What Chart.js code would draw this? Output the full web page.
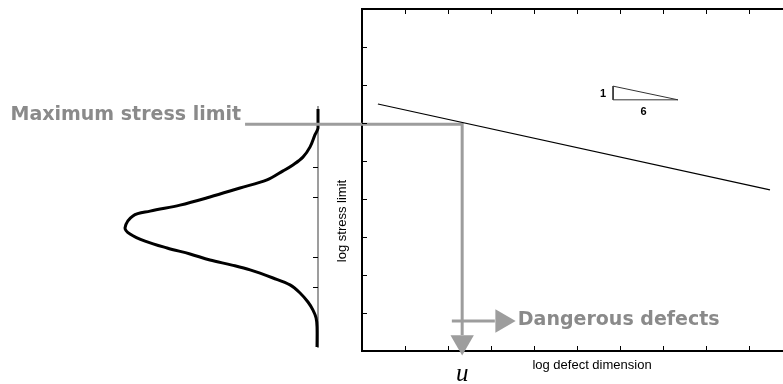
<!DOCTYPE html>
<html>
<head>
<meta charset="utf-8">
<script src="https://cdn.jsdelivr.net/npm/chart.js@4.4.1/dist/chart.umd.min.js"></script>
<style>
  body { margin: 0; overflow: hidden; background: #fff; }
  canvas { position: absolute; left: 0; top: 0; }
</style>
</head>
<body>
<canvas id="gauss" width="783" height="384"></canvas>
<canvas id="main" width="830" height="384"></canvas>
<script>
// stress limit distribution (left)
const gaussLevel = [7.93, 7.30, 7.07, 6.67, 6.33, 6.07, 5.87, 5.57, 5.30, 5.00, 4.73, 4.53, 4.37, 3.97,
  3.77, 3.53, 3.30, 3.10, 2.90, 2.73, 2.57, 2.30, 2.07, 1.80, 1.50, 1.23, 0.97, 0.67, 0.00];
const gaussDensity = [0, 0, 0.016, 0.041, 0.078, 0.130, 0.181, 0.264, 0.404, 0.560, 0.715, 0.870, 0.959, 1.000,
  0.974, 0.896, 0.782, 0.663, 0.560, 0.446, 0.352, 0.233, 0.145, 0.093, 0.052, 0.026, 0.010, 0.005, 0.005];
const gaussTicks = [2, 3, 5, 6];

// log stress limit vs log defect dimension
const defectDim = [0.37, 9.49];
const stressLimit = [6.50, 4.24];

// slope triangle 1:6
const slopeX = [5.84, 5.84, 7.35, 5.84];
const slopeY = [6.97, 6.61, 6.61, 6.97];
const slopeLabels = ["1", "6"];

// gray arrows
const maxStressX = [-2.72, 2.33, 2.33];
const maxStressY = [5.97, 5.97, 0.42];
const dangerX = [2.09, 3.09];
const dangerY = [0.79, 0.79];
const headX = [2.33, 3.26];
const headY = [0.24, 0.79];
const headRot = [180, 90];

const labels = {
  maxStress: "Maximum stress limit",
  danger: "Dangerous defects",
  u: "u",
  xTitle: "log defect dimension",
  yTitle: "log stress limit"
};

const GRAY = "#9d9d9d";
const TEXT_GRAY = "#8a8a8a";

const pts = (xs, ys) => xs.map((x, i) => ({ x: x, y: ys[i] }));

// ---------- left chart: the distribution ----------
const gaussTickPlugin = {
  id: "gaussTicks",
  afterDraw(chart) {
    const ctx = chart.ctx;
    const a = chart.chartArea;
    const s = chart.scales.y;
    ctx.save();
    ctx.strokeStyle = "#000";
    ctx.lineWidth = 1;
    s.ticks.forEach((t, i) => {
      const p = Math.round(s.getPixelForTick(i)) + 0.5;
      ctx.beginPath();
      ctx.moveTo(a.right - 5, p);
      ctx.lineTo(a.right, p);
      ctx.stroke();
    });
    ctx.restore();
  }
};

new Chart(document.getElementById("gauss").getContext("2d"), {
  type: "line",
  data: {
    datasets: [{
      data: pts(gaussDensity, gaussLevel),
      borderColor: "#000",
      borderWidth: 3,
      pointRadius: 0,
      tension: 0.35,
      clip: false
    }]
  },
  options: {
    responsive: false,
    animation: false,
    events: [],
    layout: { autoPadding: false, padding: { left: 125, right: 783 - 318, top: 107, bottom: 384 - 347 } },
    plugins: { legend: { display: false }, tooltip: { enabled: false } },
    scales: {
      x: { type: "linear", reverse: true, min: 0, max: 1, display: false },
      y: {
        type: "linear", position: "right", min: 0, max: 8,
        afterBuildTicks: s => { s.ticks = gaussTicks.map(v => ({ value: v })); },
        ticks: { display: false },
        grid: { drawOnChartArea: false, drawTicks: false },
        border: { color: GRAY, width: 2 }
      }
    }
  },
  plugins: [gaussTickPlugin]
});

// ---------- main chart ----------
const innerTicks = {
  id: "innerTicks",
  afterDraw(chart) {
    const ctx = chart.ctx;
    const a = chart.chartArea;
    ctx.save();
    ctx.strokeStyle = "#000";
    ctx.lineWidth = 1;
    const len = 5;
    ["x", "xTop"].forEach(id => {
      const s = chart.scales[id];
      s.ticks.forEach((t, i) => {
        const p = Math.round(s.getPixelForTick(i)) + 0.5;
        if (p <= a.left + 2 || p >= a.right - 2) return;
        ctx.beginPath();
        if (id === "x") { ctx.moveTo(p, a.bottom); ctx.lineTo(p, a.bottom - len); }
        else { ctx.moveTo(p, a.top); ctx.lineTo(p, a.top + len); }
        ctx.stroke();
      });
    });
    const sy = chart.scales.y;
    sy.ticks.forEach((t, i) => {
      const p = Math.round(sy.getPixelForTick(i)) + 0.5;
      if (p <= a.top + 2 || p >= a.bottom - 2) return;
      ctx.beginPath();
      ctx.moveTo(a.left, p);
      ctx.lineTo(a.left + len, p);
      ctx.stroke();
    });

    // axis titles
    ctx.fillStyle = "#000";
    ctx.font = '13px "Liberation Sans", Arial, sans-serif';
    ctx.textAlign = "center";
    ctx.textBaseline = "alphabetic";
    ctx.fillText(labels.xTitle, a.left + 230, a.bottom + 18);
    ctx.save();
    ctx.translate(a.left - 16, a.top + 212);
    ctx.rotate(-Math.PI / 2);
    ctx.fillText(labels.yTitle, 0, 0);
    ctx.restore();

    // slope triangle numbers
    const sx = chart.scales.x;
    ctx.font = 'bold 11px "Liberation Sans", Arial, sans-serif';
    ctx.textBaseline = "middle";
    ctx.fillText(slopeLabels[0], sx.getPixelForValue(slopeX[0]) - 10, sy.getPixelForValue((slopeY[0] + slopeY[1]) / 2) + 1);
    ctx.fillText(slopeLabels[1], sx.getPixelForValue((slopeX[1] + slopeX[2]) / 2) - 2, sy.getPixelForValue(slopeY[1]) + 12);

    // arrow labels
    ctx.fillStyle = TEXT_GRAY;
    ctx.font = 'bold 19px "DejaVu Sans", Verdana, sans-serif';
    ctx.textBaseline = "alphabetic";
    ctx.textAlign = "right";
    ctx.fillText(labels.maxStress, sx.getPixelForValue(maxStressX[0]) - 4, sy.getPixelForValue(maxStressY[0]) - 4);
    ctx.textAlign = "left";
    ctx.fillText(labels.danger, sx.getPixelForValue(dangerX[1]) + 23, sy.getPixelForValue(dangerY[1]) + 4);

    ctx.fillStyle = "#000";
    ctx.font = 'italic 25px "Liberation Serif", "Times New Roman", serif';
    ctx.textAlign = "center";
    ctx.fillText(labels.u, sx.getPixelForValue(maxStressX[2]), a.bottom + 30);
    ctx.restore();
  }
};

new Chart(document.getElementById("main").getContext("2d"), {
  type: "line",
  data: {
    datasets: [
      {
        data: pts(defectDim, stressLimit),
        borderColor: "#000",
        borderWidth: 1.2,
        pointRadius: 0,
        clip: false
      },
      {
        data: pts(slopeX, slopeY),
        borderColor: "#333",
        borderWidth: 1,
        pointRadius: 0,
        clip: false
      },
      {
        data: pts(maxStressX, maxStressY),
        borderColor: GRAY,
        borderWidth: 3,
        pointRadius: 0,
        clip: false
      },
      {
        data: pts(dangerX, dangerY),
        borderColor: GRAY,
        borderWidth: 3,
        pointRadius: 0,
        clip: false
      },
      {
        data: pts(headX, headY),
        showLine: false,
        pointStyle: "triangle",
        pointRadius: 13.5,
        pointRotation: headRot,
        pointBackgroundColor: GRAY,
        pointBorderWidth: 0,
        clip: false
      }
    ]
  },
  options: {
    responsive: false,
    animation: false,
    events: [],
    layout: { autoPadding: false, padding: { left: 362, right: 8, top: 9, bottom: 33 } },
    plugins: { legend: { display: false }, tooltip: { enabled: false } },
    scales: {
      x: {
        type: "linear", min: 0, max: 10.7,
        ticks: { display: false, stepSize: 1 },
        grid: { drawOnChartArea: false, drawTicks: false },
        border: { color: "#000", width: 2 }
      },
      xTop: {
        type: "linear", position: "top", min: 0, max: 10.7,
        ticks: { display: false, stepSize: 1 },
        grid: { drawOnChartArea: false, drawTicks: false },
        border: { color: "#000", width: 2 }
      },
      y: {
        type: "linear", min: 0, max: 9,
        ticks: { display: false, stepSize: 1 },
        grid: { drawOnChartArea: false, drawTicks: false },
        border: { color: "#000", width: 2 }
      }
    }
  },
  plugins: [innerTicks]
});
</script>
</body>
</html>
